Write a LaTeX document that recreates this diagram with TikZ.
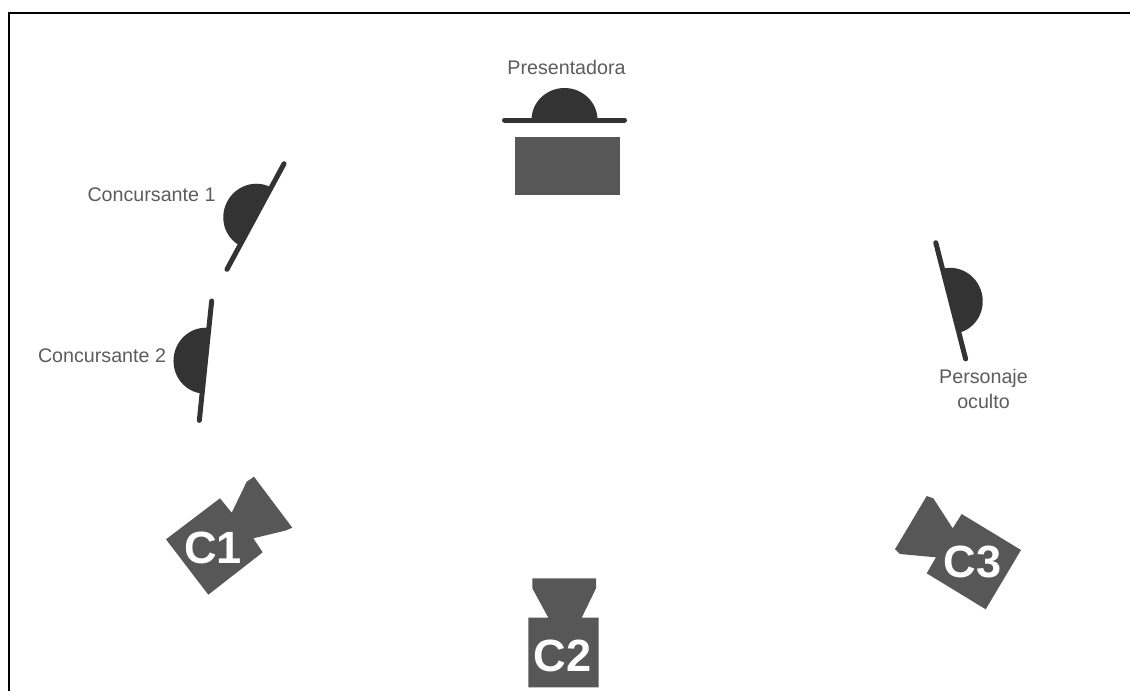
\documentclass[tikz,border=0pt]{standalone}
\usepackage{fontspec}
\setmainfont{Liberation Sans}
\usepackage{xcolor}
\definecolor{bodygrey}{HTML}{333333}
\definecolor{camgrey}{HTML}{575757}
\definecolor{textgrey}{HTML}{5C5C5C}

\begin{document}
\begin{tikzpicture}[x=0.02cm,y=-0.02cm,
    labeltext/.style={text=textgrey,font=\fontsize{11.2}{14}\selectfont,inner sep=0pt},
    camtext/.style={text=white,font=\fontsize{25.7}{28}\selectfont\bfseries,inner sep=0pt},
    camshape/.style={fill=camgrey,draw=none},
    persona/.style={fill=bodygrey,draw=none},
    desk/.style={line width=0.1cm,line cap=round,draw=bodygrey}]
\useasboundingbox (0,0) rectangle (1130,691);
% frame, open at right and bottom
\coordinate (framebl) at (9,691);
\coordinate (framett) at (9,13);
\coordinate (frametr) at (1130,13);
\draw[line width=0.04cm] (framebl) -- (framett) -- (frametr);
% people
\foreach \px/\py/\pang in {564.5/120/0, 255.5/216.5/61.6, 205.5/360.7/84.1, 950.7/300.8/-75.6} {
  \begin{scope}[shift={(\px,\py)},rotate=\pang]
    \fill[persona] (-33,0) arc [start angle=180,end angle=360,x radius=33,y radius=32] -- cycle;
    \draw[desk] (-60,0) -- (60,0);
  \end{scope}
}
% table
\fill[camshape] (515.3,136.7) rectangle (619.7,195);
% cameras
\fill[camshape] (166,539.3) -- (220,498.3) -- (231.7,512.7) -- (246.7,481.7) -- (254,476.7) -- (292.3,527.7) -- (285,530.7) -- (253.3,538.3) -- (262.7,552.3) -- (208.3,594.7) -- cycle;
\fill[camshape] (528.3,617.7) -- (548.3,617.7) -- (532.3,588.3) -- (532.3,578.3) -- (596,578.3) -- (596,588.3) -- (581.7,617.7) -- (598.7,617.7) -- (598.7,687.3) -- (528.3,687.3) -- cycle;
\fill[camshape] (961.7,514) -- (1021,550) -- (985.7,609.3) -- (926.7,573.3) -- (936,557.3) -- (900,554) -- (895,549.3) -- (926.7,496) -- (933.3,498.3) -- (952.7,528.3) -- cycle;
\node[camtext] (cOne) at (213,547.7) {C1};
\node[camtext] (cTwo) at (562.3,655.8) {C2};
\node[camtext] (cThree) at (972.5,561.7) {C3};
% labels
\node[labeltext] (presentadora) at (566.5,67) {Presentadora};
\node[labeltext] (concursanteOne) at (151.5,195) {Concursante 1};
\node[labeltext] (concursanteTwo) at (102,355.7) {Concursante 2};
\node[labeltext,align=center] (oculto) at (983.5,389) {Personaje\\oculto};
\end{tikzpicture}
\end{document}
